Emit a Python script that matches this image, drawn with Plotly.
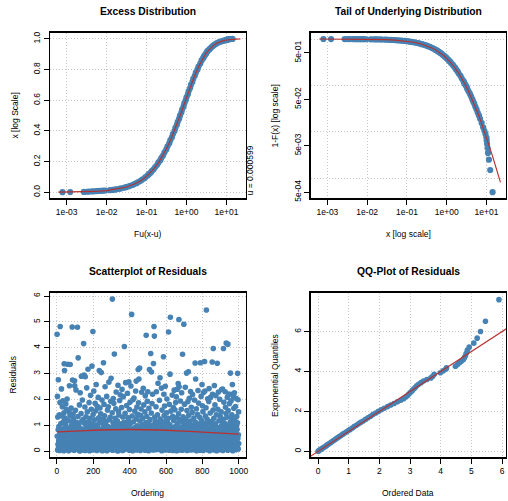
import plotly.graph_objects as go

FONT = "Liberation Sans, Arial, Helvetica, sans-serif"
STEEL = "#4682B4"
RED = "#B8312F"
GRID = "#C8C8C8"
W, H = 508, 501

# ---------------- data ----------------
threshold_label = "u = 0.000599"

# sorted exceedances and their empirical probabilities
emp_x = [0.00079, 0.00123, 0.0027, 0.0032, 0.0036, 0.0043, 0.0049, 0.0056, 0.0064, 0.0073, 0.0082, 0.0093,
         0.0121, 0.0142, 0.0160, 0.0176, 0.0208, 0.0231, 0.0272, 0.0305, 0.0349, 0.0390, 0.0446, 0.0495,
         0.0560, 0.0620, 0.0712, 0.0779, 0.0885, 0.0950, 0.1070, 0.1160, 0.1285, 0.1370, 0.1510, 0.1650,
         0.1850, 0.1990, 0.2210, 0.2360, 0.2590, 0.2810, 0.3130, 0.3350, 0.3710, 0.3940, 0.4330, 0.4580,
         0.5010, 0.5270, 0.5750, 0.6030, 0.6560, 0.6870, 0.7450, 0.7790, 0.8450, 0.8830, 0.9570, 1.0000,
         1.0850, 1.1350, 1.2330, 1.2920, 1.4070, 1.4780, 1.6160, 1.7100, 1.8770, 1.9980, 2.2160, 2.3900,
         2.6200, 2.7000, 2.7900, 2.9500, 3.1000, 3.2200, 3.3600, 3.5800, 3.8400, 4.0800, 4.3900, 4.6200,
         4.9000, 5.2200, 5.6000, 5.9800, 6.4300, 6.9000, 7.5500, 8.2000, 8.8500, 9.4000, 9.9500, 10.100,
         10.300, 10.600, 10.900, 11.500, 12.400, 14.200]
emp_p = [0.0005, 0.0015, 0.0025, 0.0035, 0.0045, 0.0055, 0.0065, 0.0075, 0.0085, 0.0095, 0.0105, 0.0115,
         0.0135, 0.0155, 0.0175, 0.0195, 0.0225, 0.0255, 0.0295, 0.0335, 0.0375, 0.0425, 0.0475, 0.0535,
         0.0595, 0.0665, 0.0745, 0.0825, 0.0915, 0.0995, 0.1095, 0.1195, 0.1295, 0.1395, 0.1495, 0.1645,
         0.1795, 0.1945, 0.2095, 0.2245, 0.2395, 0.2595, 0.2795, 0.2995, 0.3195, 0.3395, 0.3595, 0.3795,
         0.3995, 0.4195, 0.4395, 0.4595, 0.4795, 0.4995, 0.5195, 0.5395, 0.5595, 0.5795, 0.5995, 0.6195,
         0.6395, 0.6595, 0.6795, 0.6995, 0.7195, 0.7395, 0.7595, 0.7795, 0.7995, 0.8195, 0.8395, 0.8595,
         0.8745, 0.8820, 0.8895, 0.8970, 0.9045, 0.9120, 0.9195, 0.9270, 0.9345, 0.9420, 0.9495, 0.9550,
         0.9595, 0.9650, 0.9695, 0.9740, 0.9775, 0.9810, 0.9845, 0.9875, 0.9895, 0.9910, 0.9925, 0.9935,
         0.9945, 0.9955, 0.9965, 0.9975, 0.9985, 0.9995]

# fitted GPD distribution function (red curve)
fit_x = [0.00062, 0.001, 0.002, 0.005, 0.01, 0.02, 0.03, 0.05, 0.07, 0.1, 0.15, 0.2, 0.3, 0.4, 0.5,
         0.7, 0.85, 1.0, 1.25, 1.5, 2.0, 2.5, 3.0, 3.5, 4.0, 5.0, 6.0, 7.0, 8.5, 10.0, 12.0, 14.0, 18.0, 22.4]
fit_F = [0.00069, 0.00111, 0.00222, 0.00554, 0.01103, 0.0219, 0.03262, 0.0536, 0.074, 0.1035, 0.1501,
         0.1935, 0.2722, 0.3411, 0.4018, 0.5030, 0.5646, 0.6167, 0.6868, 0.7412, 0.8178, 0.8674, 0.9008,
         0.9240, 0.9407, 0.9620, 0.9743, 0.9819, 0.98866, 0.99247, 0.99532, 0.99692, 0.99848, 0.99919]

# residuals in their original order (ordering 1..1000)
residuals = [
    4.52, 0.58, 2.12, 0.05, 1.32, 0.27, 0.83, 2.76, 0.14, 0.41,
    0.95, 0.18, 0.62, 1.41, 0.03, 0.31, 1.88, 4.82, 0.74, 0.46,
    0.22, 1.07, 0.09, 0.55, 2.41, 0.37, 0.81, 1.36, 0.16, 1.72,
    0.67, 0.12, 1.95, 0.29, 0.87, 0.48, 1.15, 0.02, 1.49, 3.38,
    0.44, 3.12, 0.19, 0.76, 1.28, 0.06, 0.59, 1.04, 1.83, 0.33,
    0.91, 0.25, 1.61, 0.08, 0.53, 2.02, 0.39, 0.15, 0.71, 3.36,
    0.11, 0.64, 1.19, 0.35, 0.02, 0.88, 1.52, 0.47, 2.53, 0.21,
    0.57, 1.38, 3.35, 0.26, 0.79, 0.10, 0.42, 1.67, 0.97, 0.17,
    0.32, 0.07, 1.09, 4.80, 0.51, 2.75, 0.23, 0.69, 1.44, 0.85,
    1.26, 0.40, 0.13, 0.62, 0.04, 0.93, 2.72, 2.53, 0.28, 0.75,
    0.18, 1.58, 0.54, 0.09, 2.37, 0.36, 0.82, 1.12, 0.24, 0.65,
    0.47, 0.99, 4.79, 0.15, 0.30, 1.34, 3.61, 0.06, 0.72, 0.58,
    1.03, 0.20, 0.66, 1.79, 0.41, 0.01, 0.88, 2.26, 0.12, 0.34,
    0.76, 0.27, 1.46, 0.52, 2.90, 0.08, 1.17, 0.39, 0.16, 1.98,
    0.61, 0.14, 0.86, 0.33, 1.23, 0.05, 4.16, 0.45, 2.94, 0.70,
    0.22, 1.08, 0.57, 1.71, 0.03, 2.88, 0.38, 0.80, 0.13, 1.33,
    0.49, 0.92, 0.17, 2.45, 0.29, 0.64, 1.52, 0.07, 0.83, 0.36,
    3.17, 0.25, 0.73, 1.14, 0.10, 0.55, 1.88, 0.42, 0.02, 0.97,
    0.31, 1.27, 0.60, 0.19, 2.16, 0.87, 0.04, 0.46, 1.62, 0.14,
    0.68, 0.11, 3.29, 0.37, 1.06, 0.53, 0.24, 4.63, 1.42, 0.79,
    0.16, 0.58, 2.33, 0.95, 0.06, 1.21, 0.43, 0.27, 0.74, 1.85,
    0.89, 0.35, 0.12, 1.56, 0.62, 2.58, 0.21, 1.01, 0.48, 0.03,
    0.41, 1.74, 0.70, 0.15, 0.97, 0.30, 2.08, 0.09, 0.56, 1.29,
    0.24, 0.82, 3.12, 0.52, 1.13, 0.07, 1.67, 0.38, 0.18, 0.66,
    1.45, 0.11, 0.59, 3.04, 0.28, 0.84, 0.45, 1.98, 0.02, 1.09,
    0.36, 0.72, 0.17, 1.24, 0.54, 3.42, 0.92, 0.05, 1.81, 0.25,
    0.63, 1.37, 0.09, 0.44, 2.49, 0.21, 1.05, 0.78, 0.32, 0.14,
    1.16, 0.50, 0.27, 2.12, 0.02, 0.68, 0.39, 1.59, 0.87, 0.19,
    0.13, 0.95, 1.72, 0.34, 0.60, 2.67, 0.07, 0.47, 1.22, 0.77,
    0.55, 0.23, 1.31, 0.81, 0.10, 1.93, 0.42, 2.82, 0.66, 0.30,
    0.91, 0.16, 0.48, 1.49, 5.88, 0.04, 0.73, 0.35, 1.10, 2.04,
    0.26, 0.62, 1.85, 0.12, 0.99, 3.76, 0.44, 0.20, 0.57, 1.27,
    0.82, 0.37, 0.06, 1.64, 0.51, 2.29, 0.15, 1.03, 0.70, 0.29,
    0.46, 1.18, 0.22, 0.89, 0.01, 2.55, 0.64, 0.33, 1.53, 0.11,
    1.40, 0.58, 0.17, 0.76, 1.96, 0.30, 0.08, 2.18, 0.93, 0.42,
    0.24, 0.71, 1.06, 0.49, 0.13, 1.69, 0.86, 2.39, 0.36, 0.03,
    0.55, 1.32, 0.19, 0.94, 2.11, 0.40, 0.05, 0.67, 1.12, 0.28,
    4.05, 0.31, 0.78, 0.14, 1.47, 0.52, 0.99, 2.65, 0.21, 0.62,
    0.09, 1.04, 0.45, 1.77, 0.26, 0.83, 0.60, 2.24, 0.17, 1.30,
    0.74, 0.36, 1.21, 0.11, 0.55, 2.68, 0.93, 0.04, 1.61, 0.27,
    0.48, 1.89, 0.15, 0.67, 1.08, 0.34, 2.52, 0.80, 0.06, 0.22,
    5.29, 0.59, 0.18, 1.36, 0.85, 0.40, 0.02, 1.99, 0.72, 0.29,
    1.14, 0.25, 0.63, 2.06, 0.10, 0.91, 0.46, 1.55, 0.33, 0.77,
    0.57, 0.14, 2.33, 0.88, 0.38, 2.71, 1.25, 0.05, 0.69, 1.71,
    0.21, 0.98, 0.44, 1.43, 0.07, 0.64, 3.16, 0.30, 1.87, 0.53,
    2.79, 0.35, 0.81, 0.12, 3.22, 0.58, 1.17, 0.26, 0.03, 1.39,
    0.66, 0.19, 1.63, 0.47, 0.94, 2.28, 0.09, 0.73, 0.31, 1.02,
    0.42, 1.28, 0.08, 0.60, 2.43, 0.84, 0.23, 1.79, 0.13, 0.51,
    0.97, 0.32, 0.70, 1.52, 0.04, 2.14, 0.45, 0.18, 1.11, 0.61,
    4.48, 0.27, 0.76, 1.34, 0.11, 0.54, 1.93, 0.37, 0.86, 2.30,
    0.16, 0.63, 1.06, 0.02, 0.41, 1.66, 0.89, 0.24, 3.16, 0.50,
    0.74, 1.22, 0.30, 0.09, 0.56, 3.78, 0.95, 0.19, 1.48, 3.06,
    0.43, 0.13, 1.84, 0.68, 0.27, 2.20, 1.01, 0.05, 0.82, 0.36,
    3.39, 0.58, 0.21, 4.82, 0.91, 4.45, 0.12, 1.31, 0.47, 0.73,
    1.16, 0.33, 0.06, 0.62, 1.72, 0.85, 2.30, 0.18, 0.44, 0.98,
    0.26, 0.79, 1.41, 0.10, 0.52, 2.63, 0.37, 1.09, 0.15, 0.67,
    0.89, 0.07, 0.48, 1.97, 0.29, 0.61, 2.84, 1.24, 0.20, 0.40,
    0.55, 1.13, 0.14, 0.77, 2.44, 0.34, 0.02, 1.59, 0.93, 0.25,
    0.39, 0.70, 1.04, 0.11, 0.57, 3.65, 0.28, 2.20, 0.83, 1.38,
    0.19, 1.75, 0.46, 0.96, 0.05, 2.51, 0.66, 0.31, 1.20, 0.12,
    0.80, 0.23, 1.49, 0.58, 2.02, 0.09, 0.42, 1.12, 0.71, 0.35,
    0.14, 0.53, 1.27, 4.61, 0.87, 0.30, 0.04, 1.81, 0.64, 0.45,
    1.02, 2.98, 0.37, 5.18, 0.17, 0.75, 1.55, 0.08, 0.59, 0.26,
    0.49, 0.92, 0.13, 2.17, 0.68, 0.32, 1.35, 0.03, 0.81, 1.69,
    0.22, 1.19, 0.55, 0.06, 2.36, 0.41, 0.90, 0.18, 1.60, 0.73,
    0.63, 0.28, 1.88, 0.11, 0.98, 0.47, 2.10, 0.36, 0.02, 1.30,
    0.84, 2.40, 0.20, 0.57, 1.09, 0.33, 2.62, 0.14, 1.45, 0.70,
    5.09, 2.49, 0.44, 0.05, 0.78, 1.21, 0.27, 0.61, 1.94, 0.16,
    0.38, 0.93, 0.10, 1.62, 0.52, 2.26, 0.72, 0.24, 1.15, 0.04,
    3.75, 0.60, 0.17, 1.33, 0.85, 0.40, 0.07, 4.91, 1.05, 0.29,
    0.46, 1.82, 0.12, 0.69, 0.31, 2.47, 0.95, 0.21, 1.24, 0.56,
    0.15, 0.78, 3.02, 0.35, 1.57, 0.03, 0.62, 1.08, 0.26, 1.91,
    0.89, 0.44, 3.07, 0.19, 1.39, 0.58, 0.09, 2.05, 0.73, 0.32,
    0.54, 0.13, 1.17, 0.82, 2.31, 0.38, 0.05, 0.66, 1.70, 0.27,
    1.00, 0.24, 0.61, 1.50, 0.10, 2.19, 0.43, 0.87, 0.17, 0.71,
    0.36, 0.79, 1.28, 0.06, 0.52, 1.98, 0.22, 0.94, 0.63, 3.41,
    0.13, 1.12, 2.79, 0.47, 0.84, 0.29, 1.64, 0.02, 0.58, 0.39,
    0.70, 0.20, 1.43, 0.91, 0.08, 2.35, 0.33, 0.55, 1.86, 0.16,
    0.49, 1.05, 0.27, 0.74, 1.31, 0.12, 0.61, 0.04, 3.42, 0.88,
    0.31, 0.65, 2.12, 0.18, 1.20, 0.45, 0.97, 2.58, 0.09, 1.76,
    0.57, 0.24, 1.53, 0.82, 0.03, 2.27, 0.40, 1.07, 0.69, 0.14,
    0.92, 3.47, 0.35, 2.33, 0.11, 0.62, 1.36, 0.20, 0.78, 1.68,
    0.43, 5.46, 0.16, 0.99, 0.54, 1.24, 0.06, 0.72, 2.03, 0.30,
    1.10, 0.37, 0.81, 0.13, 1.92, 0.60, 2.42, 0.25, 0.48, 0.02,
    0.66, 0.19, 1.48, 0.89, 0.07, 2.09, 0.34, 1.15, 0.53, 0.28,
    0.12, 0.75, 0.42, 3.45, 1.03, 2.20, 0.58, 0.21, 1.59, 3.97,
    0.84, 0.31, 1.27, 0.05, 0.64, 2.54, 0.16, 0.96, 1.79, 0.40,
    0.23, 1.06, 0.55, 2.15, 0.10, 0.78, 1.41, 0.36, 0.02, 0.69,
    0.47, 3.40, 0.91, 0.14, 1.62, 0.29, 0.72, 2.29, 0.60, 0.08,
    1.18, 0.38, 0.17, 0.83, 2.01, 0.51, 0.06, 1.35, 0.93, 0.25,
    0.64, 0.11, 1.52, 0.44, 0.97, 2.38, 0.21, 0.79, 1.14, 0.33,
    2.40, 0.56, 0.03, 1.23, 0.71, 3.97, 0.30, 1.89, 0.15, 0.88,
    0.42, 1.08, 0.19, 0.62, 2.30, 0.09, 1.70, 0.83, 0.35, 1.46,
    4.18, 0.27, 0.94, 0.50, 1.31, 0.13, 2.08, 0.67, 0.04, 4.14,
    0.78, 1.57, 0.37, 0.10, 2.21, 0.59, 1.02, 0.24, 1.84, 0.46,
    0.18, 0.65, 1.13, 3.02, 0.41, 0.86, 0.07, 1.95, 0.31, 1.29,
    0.53, 1.41, 2.20, 0.16, 2.58, 0.74, 0.02, 1.06, 0.39, 2.12,
    0.92, 0.28, 1.66, 0.60, 0.11, 2.26, 0.47, 1.19, 0.81, 0.22,
    0.35, 1.73, 0.06, 0.70, 2.05, 0.44, 0.97, 0.14, 1.34, 0.57,
    0.84, 0.20, 1.10, 3.01, 0.49, 1.99, 0.09, 0.63, 1.52, 0.30,
]

# smoothed trend of residuals (red line)
trend_order = [1, 100, 200, 300, 400, 500, 600, 700, 800, 900, 1000]
trend_value = [0.75, 0.78, 0.81, 0.83, 0.84, 0.83, 0.81, 0.78, 0.74, 0.70, 0.66]

# QQ plot: ordered residuals vs exponential quantiles
qq_ordered = [0.003, 0.02, 0.04, 0.07, 0.10, 0.14, 0.18, 0.22, 0.26, 0.29, 0.33, 0.38, 0.43, 0.47, 0.52,
              0.57, 0.61, 0.66, 0.71, 0.76, 0.81, 0.87, 0.93, 0.99, 1.05, 1.12, 1.18, 1.25, 1.32, 1.39,
              1.47, 1.55, 1.63, 1.71, 1.79, 1.88, 1.97, 2.06, 2.16, 2.27, 2.37, 2.48, 2.59, 2.70, 2.79,
              2.86, 2.92, 2.97, 3.02, 3.07, 3.12, 3.17, 3.22, 3.28, 3.36, 3.44, 3.55, 3.68, 3.74, 3.79,
              3.99, 4.08, 4.17, 4.19, 4.48, 4.55, 4.62, 4.68, 4.74, 4.77, 4.80, 4.83, 4.87, 4.93, 5.08,
              5.19, 5.30, 5.46, 5.90]
qq_expq = [0.0005, 0.02, 0.05, 0.08, 0.11, 0.15, 0.19, 0.23, 0.27, 0.31, 0.35, 0.40, 0.45, 0.50, 0.55,
           0.60, 0.65, 0.70, 0.75, 0.80, 0.86, 0.92, 0.98, 1.04, 1.10, 1.17, 1.24, 1.31, 1.38, 1.45,
           1.52, 1.60, 1.68, 1.76, 1.84, 1.92, 2.00, 2.08, 2.16, 2.24, 2.32, 2.40, 2.48, 2.56, 2.64,
           2.72, 2.80, 2.88, 2.96, 3.04, 3.12, 3.20, 3.28, 3.36, 3.44, 3.52, 3.60, 3.68, 3.76, 3.86,
           3.94, 4.03, 4.12, 4.18, 4.26, 4.35, 4.45, 4.52, 4.60, 4.68, 4.76, 4.90, 5.07, 5.22, 5.42,
           5.67, 6.00, 6.52, 7.60]
qq_intercept = 0.0
qq_slope = 1.0

# tick labels
log_x_ticks = [0.001, 0.01, 0.1, 1, 10]
log_x_text = ["1e-03", "1e-02", "1e-01", "1e+00", "1e+01"]
prob_ticks = [0.0, 0.2, 0.4, 0.6, 0.8, 1.0]
prob_text = ["0.0", "0.2", "0.4", "0.6", "0.8", "1.0"]
tail_ticks = [0.0005, 0.005, 0.05, 0.5]
tail_text = ["5e-04", "5e-03", "5e-02", "5e-01"]
tail_grid = [0.001, 0.01, 0.1, 1]

# ---------------- figure ----------------
def px_x(p):
    return p / W

def px_y(p):
    return 1 - p / H

dom_left = [px_x(50), px_x(247)]
dom_right = [px_x(312), 1.0]
dom_top = [px_y(199), px_y(32)]
dom_bot = [px_y(460), px_y(294)]

mk = dict(color=STEEL, size=5.6, line=dict(width=0))
mk_big = dict(color=STEEL, size=6.2, line=dict(width=0))
ln = dict(color=RED, width=1.1)

fig = go.Figure()

# panel 1: excess distribution
fig.add_trace(go.Scatter(x=emp_x, y=emp_p, mode="markers", marker=mk_big, xaxis="x", yaxis="y"))
fig.add_trace(go.Scatter(x=fit_x, y=fit_F, mode="lines", line=ln, xaxis="x", yaxis="y"))

# panel 2: tail of underlying distribution
tail_emp = [1 - p for p in emp_p]
tail_fit = [1 - f for f in fit_F]
fig.add_trace(go.Scatter(x=emp_x, y=tail_emp, mode="markers", marker=mk_big, xaxis="x2", yaxis="y2"))
fig.add_trace(go.Scatter(x=fit_x, y=tail_fit, mode="lines", line=ln, xaxis="x2", yaxis="y2"))

# panel 3: residual scatter
fig.add_trace(go.Scatter(y=residuals, x0=1, dx=1, mode="markers", marker=mk, xaxis="x3", yaxis="y3"))
fig.add_trace(go.Scatter(x=trend_order, y=trend_value, mode="lines", line=dict(color=RED, width=1.3),
                         line_shape="spline", xaxis="x3", yaxis="y3"))

# panel 4: QQ plot
x4_range = [-0.236, 6.13]
fig.add_trace(go.Scatter(x=qq_ordered, y=qq_expq, mode="markers", marker=mk, xaxis="x4", yaxis="y4"))
line_x = [x4_range[0] - 0.5, x4_range[1] + 0.5]
fig.add_trace(go.Scatter(x=line_x, y=[qq_intercept + qq_slope * v for v in line_x], mode="lines",
                         line=ln, xaxis="x4", yaxis="y4"))

tickfont = dict(family=FONT, size=8.5, color="black")
base = dict(showline=True, mirror=True, linecolor="black", linewidth=1.3,
            ticks="outside", ticklen=5, tickwidth=1, tickcolor="black",
            showgrid=True, gridcolor=GRID, griddash="1px,2px", gridwidth=1,
            zeroline=False, tickfont=tickfont, fixedrange=True)

def ax(**kw):
    d = dict(base)
    d.update(kw)
    return d

fig.update_layout(
    width=W, height=H, autosize=False,
    margin=dict(l=0, r=0, t=0, b=0),
    paper_bgcolor="white", plot_bgcolor="white",
    showlegend=False, hovermode=False,
    xaxis=ax(domain=dom_left, anchor="y", type="log", range=[-3.42, 1.49],
             tickmode="array", tickvals=log_x_ticks, ticktext=log_x_text),
    yaxis=ax(domain=dom_top, anchor="x", range=[-0.04, 1.04],
             tickmode="array", tickvals=prob_ticks, ticktext=prob_text, tickangle=-90),
    xaxis2=ax(domain=dom_right, anchor="y2", type="log", range=[-3.42, 1.49],
              tickmode="array", tickvals=log_x_ticks, ticktext=log_x_text),
    yaxis2=ax(domain=dom_top, anchor="x2", type="log", range=[-3.436, 0.135],
              tickmode="array", tickvals=tail_ticks, ticktext=tail_text, tickangle=-90,
              showgrid=False,
              minor=dict(tickmode="array", tickvals=tail_grid, showgrid=True, gridcolor=GRID,
                         griddash="1px,2px", gridwidth=1, ticks="")),
    xaxis3=ax(domain=dom_left, anchor="y3", range=[-39, 1040],
              tickmode="array", tickvals=[0, 200, 400, 600, 800, 1000]),
    yaxis3=ax(domain=dom_bot, anchor="x3", range=[-0.236, 6.13],
              tickmode="array", tickvals=[0, 1, 2, 3, 4, 5, 6], tickangle=-90),
    xaxis4=ax(domain=dom_right, anchor="y4", range=x4_range,
              tickmode="array", tickvals=[0, 1, 2, 3, 4, 5, 6]),
    yaxis4=ax(domain=dom_bot, anchor="x4", range=[-0.3, 7.95],
              tickmode="array", tickvals=[0, 2, 4, 6], tickangle=-90),
)

def note(text, x, y, size=8.5, angle=0, bold=False, xanchor="center", yanchor="middle"):
    fig.add_annotation(text=("<b>%s</b>" % text) if bold else text,
                       x=px_x(x), y=px_y(y), xref="paper", yref="paper",
                       showarrow=False, textangle=angle, xanchor=xanchor, yanchor=yanchor,
                       font=dict(family=FONT, size=size, color="black"))

# main titles
note("Excess Distribution", 148.5, 11, size=10.3, bold=True)
note("Tail of Underlying Distribution", 410, 11, size=10.3, bold=True)
note("Scatterplot of Residuals", 148.5, 273, size=10.3, bold=True)
note("QQ-Plot of Residuals", 410, 273, size=10.3, bold=True)
# axis titles
note("Fu(x-u)", 148.5, 235)
note("x [log scale]", 410, 235)
note("Ordering", 148.5, 496)
note("Ordered Data", 410, 496)
note("x [log Scale]", 15, 115.5, angle=-90)
note("1-F(x) [log scale]", 276, 115.5, angle=-90)
note("Residuals", 13.5, 377, angle=-90)
note("Exponential Quantiles", 276, 377, angle=-90)
# threshold note
note(threshold_label, 251, 198, angle=-90, yanchor="bottom")

fig.write_html("out.html", config={"displayModeBar": False, "staticPlot": True},
               post_script="document.body.style.margin='0px';")
